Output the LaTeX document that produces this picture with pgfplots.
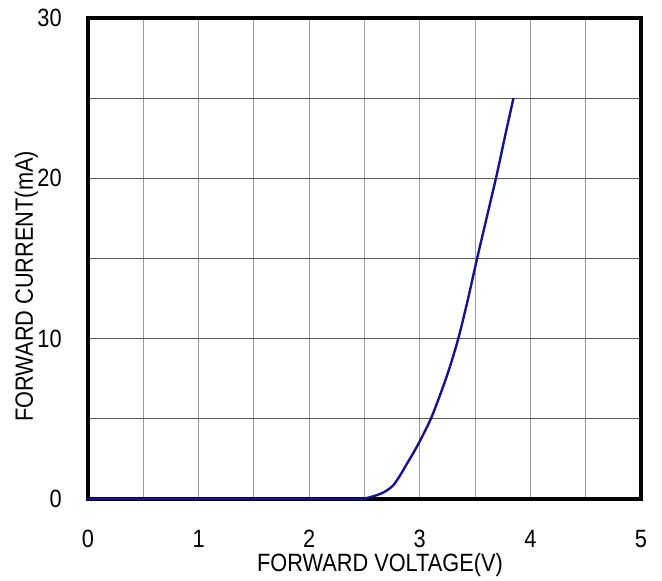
\documentclass[border=0pt]{standalone}
\usepackage{pgfplots}
\pgfplotsset{compat=1.18}
\usepackage{fontspec}
\setmainfont{Liberation Sans}[FakeStretch=0.87]
\definecolor{curve}{RGB}{20,20,140}
\begin{document}
\begin{tikzpicture}
\begin{axis}[
  scale only axis,
  width=276.5pt, height=240.5pt,
  xmin=0, xmax=5, ymin=0, ymax=30,
  xtick={0,1,2,3,4,5},
  ytick={0,10,20,30},
  minor x tick num=1,
  minor y tick num=1,
  major tick length=0pt, minor tick length=0pt,
  grid=both,
  x grid style={draw=black!40, line width=0.5pt},
  y grid style={draw=black!65, line width=0.5pt},
  minor x grid style={draw=black!40, line width=0.5pt},
  minor y grid style={draw=black!65, line width=0.5pt},
  axis line style={line width=2.3pt, black},
  /pgf/number format/assume math mode=true,
  tick label style={font=\fontsize{12.5}{15}\selectfont},
  xticklabel style={anchor=north, inner sep=0pt, yshift=-15.5pt},
  yticklabel style={anchor=east, inner sep=0pt, xshift=-13pt},
  label style={font=\fontsize{12.5}{15}\selectfont},
  xlabel={FORWARD VOLTAGE(V)},
  ylabel={FORWARD CURRENT(mA)},
  xlabel style={at={(axis description cs:0.528,-0.1518)}, anchor=base, inner sep=0pt},
  ylabel style={at={(axis description cs:-0.0995,0.442)}, anchor=base, inner sep=0pt},
  clip=false,
]
\path (axis cs:-0.7957,-5.114) rectangle (axis cs:5.19,31.12);
\addplot[curve, line width=1.2pt, smooth] coordinates {
(0,0) (1,0) (2,0) (2.45,0) (2.5,0.03) (2.55,0.11) (2.6,0.21) (2.65,0.34)
(2.7,0.52) (2.76,0.85) (2.82,1.45) (2.88,2.15) (2.94,2.85) (3.0,3.6)
(3.1,5.0) (3.2,6.8) (3.27,8.2) (3.348,10) (3.43,12.3) (3.515,14.9)
(3.6,17.4) (3.695,20.2) (3.77,22.6) (3.847,25)
};
\end{axis}
\end{tikzpicture}
\end{document}
